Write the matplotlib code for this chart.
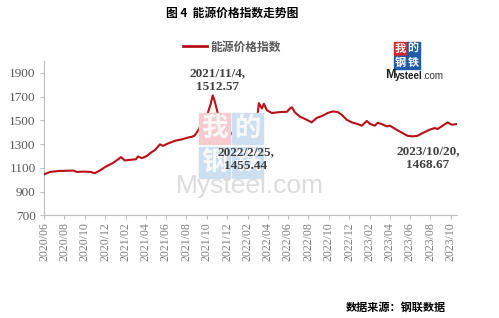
import numpy as np
import pandas as pd
import matplotlib
matplotlib.use('Agg')
import matplotlib.pyplot as plt
import matplotlib.dates as mdates
from matplotlib.patches import Rectangle

# 能源价格指数
dates = [
    '2020-06-01', '2020-06-10', '2020-06-19', '2020-07-04', '2020-07-19', '2020-08-06',
    '2020-08-27', '2020-09-08', '2020-09-26', '2020-10-17', '2020-10-31', '2020-11-15',
    '2020-12-03', '2020-12-24', '2021-01-08', '2021-01-17', '2021-01-29', '2021-02-16',
    '2021-03-03', '2021-03-09', '2021-03-21', '2021-04-05', '2021-04-14', '2021-04-29',
    '2021-05-14', '2021-05-23', '2021-06-07', '2021-06-28', '2021-07-19', '2021-08-06',
    '2021-08-18', '2021-08-26', '2021-09-04', '2021-09-16', '2021-09-25', '2021-10-04',
    '2021-10-13', '2021-10-19', '2021-10-25', '2021-11-03', '2021-11-09', '2021-11-21',
    '2021-11-30', '2021-12-18', '2022-01-02', '2022-01-08', '2022-01-20', '2022-01-29',
    '2022-02-07', '2022-02-16', '2022-02-22', '2022-02-28', '2022-03-06', '2022-03-15',
    '2022-03-21', '2022-03-30', '2022-04-14', '2022-05-08', '2022-05-29', '2022-06-07',
    '2022-06-13', '2022-06-21', '2022-07-06', '2022-07-27', '2022-08-11', '2022-08-26',
    '2022-09-13', '2022-09-28', '2022-10-13', '2022-10-28', '2022-11-09', '2022-11-24',
    '2022-12-09', '2022-12-24', '2023-01-08', '2023-01-23', '2023-02-01', '2023-02-16',
    '2023-02-25', '2023-03-09', '2023-03-24', '2023-04-02', '2023-04-22', '2023-05-10',
    '2023-05-25', '2023-06-09', '2023-06-24', '2023-07-09', '2023-07-30', '2023-08-14',
    '2023-08-23', '2023-09-07', '2023-09-22', '2023-10-04', '2023-10-20',
]
values = [
    1045, 1055, 1065, 1070, 1074, 1075,
    1077, 1065, 1068, 1066, 1055, 1077,
    1110, 1140, 1170, 1190, 1162, 1168,
    1172, 1195, 1182, 1200, 1222, 1250,
    1298, 1285, 1305, 1328, 1340, 1355,
    1362, 1372, 1410, 1470, 1510, 1560,
    1640, 1710, 1660, 1560, 1520, 1460,
    1430, 1379, 1359, 1355, 1400, 1435,
    1475, 1500, 1450, 1485, 1645, 1600,
    1640, 1585, 1562, 1570, 1572, 1600,
    1610, 1570, 1533, 1505, 1483, 1520,
    1539, 1562, 1575, 1570, 1547, 1505,
    1483, 1471, 1455, 1495, 1471, 1455,
    1480, 1468, 1449, 1455, 1421, 1393,
    1370, 1365, 1370, 1393, 1421, 1435,
    1427, 1455, 1483, 1463, 1468.67,
]
series_name = '能源价格指数'
yticks = [700, 900, 1100, 1300, 1500, 1700, 1900]

notes = [
    ('2021/11/4,\n1512.57', 218, 80),
    ('2022/2/25,\n1455.44', 246, 159),
    ('2023/10/20,\n1468.67', 428, 158),
]

W, H = 499, 318
def fx(x):
    return x / W
def fy(y):
    return 1 - y / H

cjk = ['Noto Sans CJK SC', 'DejaVu Sans']
serif = 'Liberation Serif'
grey = '#595959'
line_red = '#B80F18'

fig = plt.figure(figsize=(W / 100, H / 100), dpi=100)
fig.patch.set_facecolor('white')

# watermark (drawn below the axes)
wm_boxes = [(199, 113, '我', '#F5CBCD'), (232, 113, '的', '#CCDFF0'),
            (199, 147, '钢', '#CCDFF0'), (232, 147, '铁', '#CCDFF0')]
for bx, by, ch, col in wm_boxes:
    fig.patches.append(Rectangle((fx(bx), fy(by + 31)), 31 / W, 31 / H,
                                 transform=fig.transFigure, color=col, zorder=0))
    fig.text(fx(bx + 15.5), fy(by + 15.5), ch, ha='center', va='center',
             fontsize=19, color='#F8F8F8', family=cjk, fontweight='bold', zorder=0.5)
fig.text(fx(176), fy(186), 'Mysteel.com', ha='left', va='center', fontsize=19,
         color='#DCDCDC', family='Liberation Sans', zorder=0.5)

ax = fig.add_axes([fx(44), fy(215.3), (457 - 44) / W, (215.3 - 61) / H])
ax.patch.set_alpha(0)

x = pd.to_datetime(dates)
ax.plot(x, values, color=line_red, lw=1.5, label=series_name, zorder=3)

ax.set_ylim(700, 2000)
ax.set_yticks(yticks)
ax.set_xlim(pd.Timestamp('2020-06-01'), pd.Timestamp('2023-10-20'))
ax.xaxis.set_major_locator(mdates.MonthLocator(bymonth=[2, 4, 6, 8, 10, 12]))
ax.xaxis.set_major_formatter(mdates.DateFormatter('%Y/%m'))

for s in ['top', 'right']:
    ax.spines[s].set_visible(False)
for s in ['left', 'bottom']:
    ax.spines[s].set_color('#BFBFBF')
    ax.spines[s].set_linewidth(0.8)
ax.tick_params(axis='both', colors='#BFBFBF', length=3, width=0.8, direction='out')
ax.tick_params(axis='y', labelcolor=grey, labelsize=9.5, pad=3)
ax.tick_params(axis='x', labelcolor='#7F7F7F', labelsize=8.5, labelrotation=90, pad=2)
for lab in ax.get_xticklabels() + ax.get_yticklabels():
    lab.set_fontfamily(serif)

for txt, tx, ty in notes:
    fig.text(fx(tx), fy(ty), txt, ha='center', va='center', fontsize=9.5,
             color='#404040', family=serif, fontweight='bold', linespacing=1.15)

# legend
leg = fig.legend(loc='center left', bbox_to_anchor=(fx(183), fy(47)),
                 frameon=False, handlelength=2.0, handletextpad=0.35,
                 borderaxespad=0, borderpad=0,
                 prop={'family': cjk, 'size': 8.5, 'weight': 'bold'})
for t in leg.get_texts():
    t.set_color(grey)
leg.get_lines()[0].set_linewidth(2)

# small logo top right
logo = [(394, 42, '我', '#D7262E'), (407, 42, '的', '#1F5DA8'),
        (394, 56, '钢', '#1F5DA8'), (407, 56, '铁', '#1F5DA8')]
for bx, by, ch, col in logo:
    fig.patches.append(Rectangle((fx(bx), fy(by + 13)), 12.5 / W, 13 / H,
                                 transform=fig.transFigure, color=col, zorder=5))
    fig.text(fx(bx + 6.2), fy(by + 6.5), ch, ha='center', va='center',
             fontsize=8, color='white', family=cjk, fontweight='bold', zorder=6)
fig.text(fx(385), fy(75), 'M', ha='left', va='center', fontsize=9,
         color='#222222', family='Liberation Sans', fontweight='bold', zorder=6)
fig.text(fx(395), fy(76), 'ysteel', ha='left', va='center', fontsize=7,
         color='#222222', family='Liberation Sans', fontweight='bold', zorder=6)
fig.text(fx(422), fy(76), '.com', ha='left', va='center', fontsize=7,
         color='#333333', family='Liberation Sans', zorder=6)

fig.text(fx(232), fy(13), '图 4  能源价格指数走势图', ha='center', va='center',
         fontsize=8.5, fontweight='bold', family=cjk, color='black')
fig.text(fx(446), fy(307), '数据来源：钢联数据', ha='right', va='center',
         fontsize=8, fontweight='bold', family=cjk, color='black')

fig.savefig('out.png', dpi=100)
